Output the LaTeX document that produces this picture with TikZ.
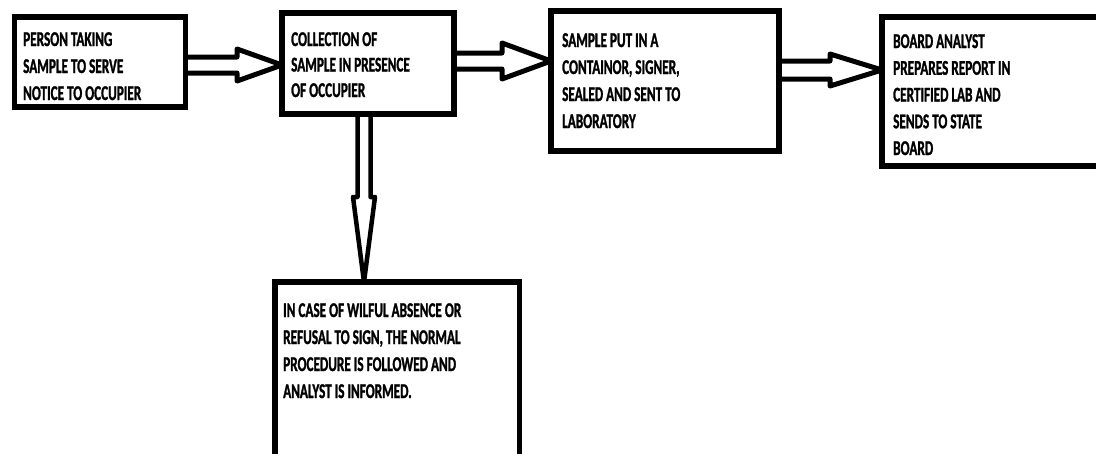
\documentclass[tikz,border=0pt]{standalone}
\usepackage{fontspec}
\newfontfamily\labfont{Carlito}[FakeStretch=0.63,BoldFeatures={FakeBold=1.2}]
\usetikzlibrary{calc}
\begin{document}
\begin{tikzpicture}[x=1pt,y=-1pt,
  box/.style={draw=black,line width=5.5pt,rectangle,inner sep=0pt,outer sep=0pt},
  harrow/.style={draw=black,fill=white,line width=5pt,line join=round},
  lab/.style={anchor=base west,inner sep=0pt,align=left,
    font=\labfont\bfseries\fontsize{21}{27}\selectfont}]
\useasboundingbox (0,0) rectangle (1096,453);
\clip (0,0) rectangle (1096,453);
\fill[white] (0,0) rectangle (1096,453);
% boxes (named, empty)
\path (100,62) node[minimum width=171pt,minimum height=90pt,inner sep=0pt,outer sep=0pt] (b1) {};
\path (368,63.5) node[minimum width=172pt,minimum height=101pt,inner sep=0pt,outer sep=0pt] (b2) {};
\path (665,81) node[minimum width=228pt,minimum height=140pt,inner sep=0pt,outer sep=0pt] (b3) {};
\path (992,91.5) node[minimum width=220pt,minimum height=149pt,inner sep=0pt,outer sep=0pt] (b4) {};
\path (397.25,369.5) node[minimum width=244.5pt,minimum height=175pt,inner sep=0pt,outer sep=0pt] (b5) {};
% arrow end points
\coordinate (a1s) at (b1.east |- 0,65);
\coordinate (a1t) at (b2.west |- 0,65);
\coordinate (a2s) at (b2.east |- 0,61);
\coordinate (a2t) at (b3.west |- 0,61);
\coordinate (a3s) at (b3.east |- 0,70);
\coordinate (a3t) at (b4.west |- 0,70);
\coordinate (d1s) at (b2.south -| 364,0);
\coordinate (d1t) at (b5.north -| 364,0);
% hollow block arrows
\draw[harrow] let \p1=(a1s), \p2=(a1t) in
  (\x1,\y1+8pt) -- (\x2-45pt,\y1+8pt) -- (\x2-45pt,\y1+16pt) -- (\p2) --
  (\x2-45pt,\y1-16pt) -- (\x2-45pt,\y1-8pt) -- (\x1,\y1-8pt);
\draw[harrow] let \p1=(a2s), \p2=(a2t) in
  (\x1,\y1+8pt) -- (\x2-49pt,\y1+8pt) -- (\x2-49pt,\y1+18pt) -- (\p2) --
  (\x2-49pt,\y1-18pt) -- (\x2-49pt,\y1-8pt) -- (\x1,\y1-8pt);
\draw[harrow] let \p1=(a3s), \p2=(a3t) in
  (\x1,\y1+9pt) -- (\x2-52pt,\y1+9pt) -- (\x2-52pt,\y1+16pt) -- (\p2) --
  (\x2-52pt,\y1-16pt) -- (\x2-52pt,\y1-9pt) -- (\x1,\y1-9pt);
\draw[harrow,line width=4.5pt] let \p1=(d1s), \p2=(d1t) in
  (\x1-6.5pt,\y1) -- (\x1-6.5pt,\y2+85pt) -- (\x1-11pt,\y2+85pt) -- (\p2) --
  (\x1+11pt,\y2+85pt) -- (\x1+6.5pt,\y2+85pt) -- (\x1+6.5pt,\y1);
% box borders on top
\foreach \b in {b1,b2,b3,b4,b5} \draw[box] (\b.north west) rectangle (\b.south east);
% texts (anchor = baseline of last line)
\node[lab] (t1) at (23,100) {PERSON TAKING\\SAMPLE TO SERVE\\NOTICE TO OCCUPIER};
\node[lab,font=\labfont\bfseries\fontsize{21}{25.5}\selectfont] (t2) at (291,97) {COLLECTION OF\\SAMPLE IN PRESENCE\\OF OCCUPIER};
\node[lab] (t3) at (562,128) {SAMPLE PUT IN A\\CONTAINOR, SIGNER,\\SEALED AND SENT TO\\LABORATORY};
\node[lab,font=\labfont\bfseries\fontsize{21}{26.75}\selectfont] (t4) at (893,155) {BOARD ANALYST\\PREPARES REPORT IN\\CERTIFIED LAB AND\\SENDS TO STATE\\BOARD};
\node[lab] (t5) at (283,398) {IN CASE OF WILFUL ABSENCE OR\\REFUSAL TO SIGN, THE NORMAL\\PROCEDURE IS FOLLOWED AND\\ANALYST IS INFORMED.};
\end{tikzpicture}
\end{document}
